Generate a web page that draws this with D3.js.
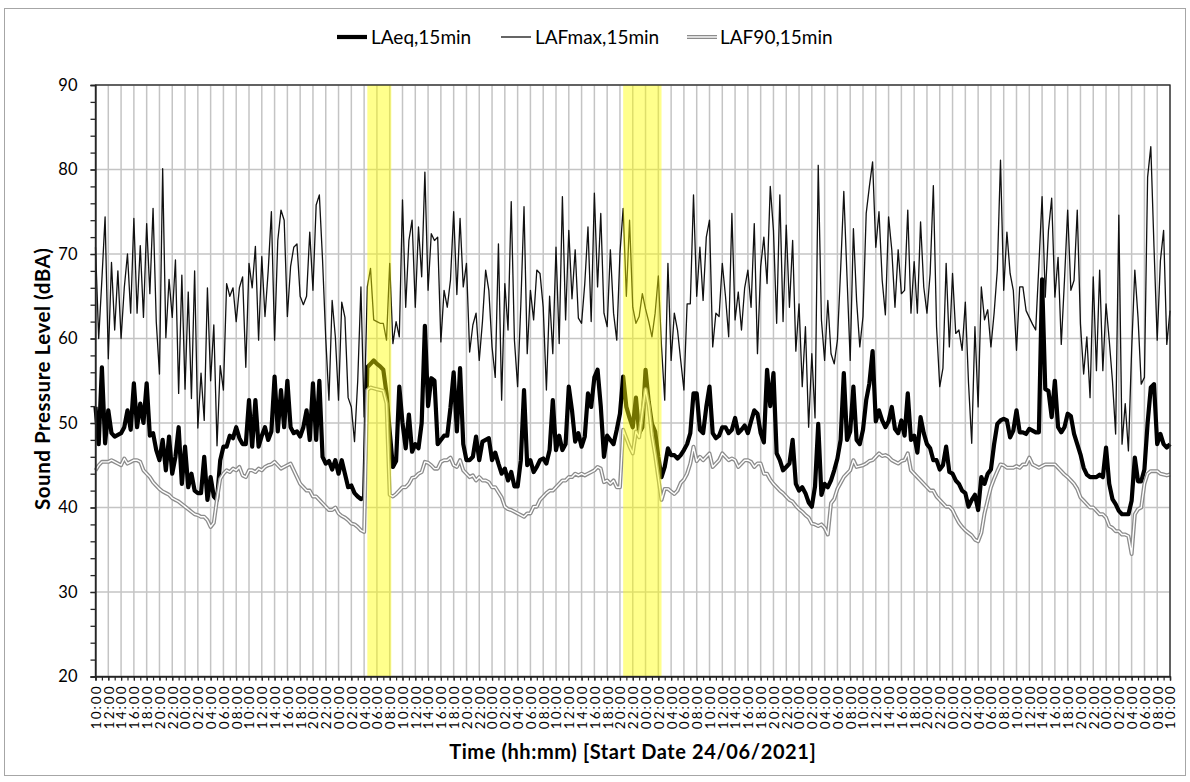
<!DOCTYPE html>
<html>
<head>
<meta charset="utf-8">
<script src="https://cdnjs.cloudflare.com/ajax/libs/d3/7.8.5/d3.min.js"></script>
<style>
    body { margin: 0; background: #fff; }
    svg { display: block; font-family: Lato, "Liberation Sans", sans-serif; }
</style>
</head>
<body>
<svg id="chart" width="1190" height="782"></svg>
<script>
// Survey period and sampling of the values
const startTime = "2021-06-24T10:00";
const endTime = "2021-07-01T10:00";
const stepMinutes = 30;

const laeq = [
    51.9, 47.5, 56.6, 47.6, 51.5, 48.8, 48.4, 48.6, 48.8, 49.5, 51.5, 49.2, 54.7, 49.5, 52.3, 50, 54.7, 48.5, 48.8, 46.8,
    45.6, 48, 44.4, 48.4, 44, 46, 49.5, 42.8, 47.2, 42.4, 44, 42, 41.7, 41.7, 46, 40.9, 43.6, 41.3, 40.9, 45.6,
    47.2, 47.2, 48.5, 48.2, 49.5, 48.2, 47.5, 47.5, 52.7, 47.2, 52.7, 47.2, 48.5, 49.5, 48, 49, 55.5, 49, 53.9, 49.5,
    55, 49.5, 48.8, 49, 48.4, 49.5, 51.5, 48, 54.7, 48, 55, 46, 45.2, 45.5, 44.5, 45.6, 44, 45.6, 44, 42.4,
    42.6, 41.7, 41.3, 41, 41.2, 56.6, 57, 57.4, 57, 56.7, 56.3, 53.5, 49, 44.8, 45.5, 54.3, 50, 47, 51, 46.6,
    47.5, 47, 50, 61.5, 52, 55.3, 55, 47.5, 48, 48.5, 48.5, 51.8, 56, 49, 56.5, 47.5, 45.6, 45.6, 46, 48.4,
    45.6, 47.8, 48, 48.2, 45.6, 46.5, 45.2, 44, 44.6, 43.2, 44.2, 42.5, 42.5, 45.6, 53.9, 45, 45.6, 44.2, 44.8, 45.6,
    45.8, 45.2, 46.8, 52.7, 46.8, 48.5, 46.8, 47.5, 54.3, 51.5, 47.8, 48.8, 47.2, 48.4, 53.5, 51.9, 55.4, 56.3, 52, 46,
    48.5, 48, 47.5, 49.2, 51.1, 55.5, 51.9, 50.6, 49.5, 53, 48.8, 49.5, 56.3, 52.5, 49.9, 49, 46, 43.6, 44.8, 47,
    46.2, 46.2, 45.8, 46.2, 46.8, 47.5, 48.8, 53.5, 53.5, 49.2, 48.8, 51.9, 54.3, 48.8, 48.2, 48.5, 49.5, 49.5, 48.8, 49.2,
    50.6, 48.8, 49.2, 49.7, 48.8, 50.2, 51.5, 51.1, 48.8, 47.7, 56.3, 52, 55.9, 46.4, 45.6, 44.4, 44.8, 45.2, 48, 42.8,
    42, 42.4, 41.7, 40.6, 40.1, 42.5, 49.9, 41.5, 42.8, 42.4, 43.2, 44.4, 45.8, 48, 55.9, 48, 49, 54.3, 48, 47.5,
    49.2, 52.7, 54.7, 58.5, 50.2, 51.5, 50.3, 49.5, 50.2, 51.9, 49.3, 48.8, 50.3, 48.5, 53.5, 48, 48.5, 46.5, 50.7, 48.8,
    47.5, 47, 45.6, 45.6, 44.5, 45, 47.2, 44.2, 44, 43.2, 42.8, 42, 41.7, 40.1, 40.9, 41.5, 39.7, 43.6, 42.8, 44,
    44.5, 47.5, 49.9, 50.3, 50.5, 50.3, 48.3, 49.1, 51.5, 48.9, 48.9, 48.7, 49.3, 49.1, 48.9, 48.9, 67, 54, 53.8, 50.7,
    55, 49.5, 48.9, 49.5, 51.1, 50.8, 48.7, 47.5, 46.3, 44.7, 43.9, 43.6, 43.6, 43.6, 43.9, 43.6, 47.1, 42.8, 41, 40.4,
    39.6, 39.2, 39.2, 39.2, 40.8, 45.9, 43.1, 43.1, 44.5, 50, 54.2, 54.6, 47.5, 48.7, 47.5, 47.1, 47.5
];

const lafmax = [
    70.8, 60, 67, 74.4, 57.6, 69, 61, 68, 60, 66, 70, 63, 74.2, 63, 71, 62.5, 73.6, 65.3, 75.4, 62,
    55.8, 80.1, 60.1, 67, 62.5, 69.3, 53.5, 67.5, 54, 65.5, 52.9, 68, 49.4, 55.9, 50.3, 66, 55, 61.6, 47.3, 56.8,
    53.9, 66.5, 65, 66, 62, 66, 67.3, 56.6, 68.9, 66, 70.9, 59.8, 69.7, 62.6, 68, 75, 59.8, 71.6, 75.2, 74,
    62.6, 68.5, 70.8, 71.2, 65, 64, 65, 72.6, 65.7, 75.8, 77, 69.3, 60, 52.7, 64.5, 60.2, 52.7, 64.3, 62.5, 53,
    51.9, 47.8, 55, 66.1, 50.7, 66.1, 68.3, 62.2, 62, 61.8, 61.8, 59.8, 68.9, 59.4, 62, 60.2, 76.4, 63.7, 71.6, 74,
    63.7, 73.2, 67.3, 79.7, 65.7, 72.4, 71.6, 72, 59.6, 65.7, 63.7, 66.9, 75, 65.2, 74.2, 66.1, 68.9, 58.4, 61.6, 63,
    57.4, 62, 68.1, 65.7, 59, 55.4, 71.2, 52.7, 66.5, 61, 76.2, 59.8, 54.3, 64, 75.6, 58.2, 65.7, 62.2, 68.1, 67.7,
    63.7, 53.9, 65, 58.2, 70.8, 59.4, 76.8, 62.2, 72.8, 64.7, 70.5, 62.4, 61.8, 66.5, 73.2, 62, 77.2, 66.1, 74.8, 63,
    61.4, 70.5, 63, 59.8, 70.1, 75.4, 65, 74, 63.7, 61.8, 62.6, 65.3, 63.5, 62, 60.2, 63, 67.4, 59, 52.7, 68.9,
    57.4, 63, 61, 57.4, 53.9, 64.1, 64.1, 77, 65, 70.8, 64.5, 72, 74, 59, 63, 62.6, 68.9, 65, 60.2, 74.8,
    62.2, 65.5, 61, 66, 68.1, 63.7, 73.6, 58.2, 68.5, 72, 66.5, 78, 72.8, 61.8, 77, 62, 73.4, 63.7, 71.6, 58.5,
    64.1, 54.3, 61.4, 49.5, 58.2, 50.6, 80.5, 62.2, 57.4, 64.5, 58.2, 57, 59.8, 68.1, 77.4, 67.3, 57.4, 73, 64.5, 59,
    62.6, 74.8, 78, 80.9, 70.8, 75, 66.9, 62.8, 74.4, 70.5, 63.7, 70.5, 65.3, 65.7, 75.2, 63, 69.1, 63, 73.8, 66.1,
    63, 67.7, 78.1, 61.4, 54.3, 56.5, 68.9, 59, 67.7, 60.6, 61, 58.6, 64.3, 54.7, 47.6, 61.4, 51.9, 66.1, 62.2, 63.4,
    59, 63, 68.1, 81.1, 65.7, 72.6, 67.7, 65.7, 58.6, 66.1, 66.1, 63.3, 62.5, 61.7, 61, 68.7, 76.8, 64.9, 72.8, 76.6,
    64.9, 69.6, 59.3, 66.9, 75.2, 65.7, 66.9, 75.2, 61.7, 55.8, 60.2, 53, 67.3, 56.2, 68.1, 56.2, 64.1, 59.8, 55, 48.7,
    74.6, 47.5, 52.3, 46.7, 58.6, 68.1, 62.5, 54.6, 55.4, 79.1, 82.7, 70.8, 59.8, 69.2, 72.8, 59.3, 63.3
];

const laf90 = [
    44.4, 45, 45.4, 45.4, 45.4, 45.6, 45.4, 45.2, 45, 45.8, 45.2, 45.4, 45.6, 45.6, 45.4, 44.4, 44, 43.6, 43, 42.6,
    42.2, 41.9, 41.7, 41.5, 41.1, 40.9, 40.7, 40.4, 40.1, 39.8, 39.5, 39.2, 39.1, 38.9, 38.9, 38.5, 37.7, 38.2, 41, 43.4,
    44, 44.4, 44.2, 44.6, 44.4, 44.8, 43.8, 43.6, 44.4, 44.4, 44.2, 44.6, 44.4, 44.8, 45, 45.1, 45.4, 45, 44.6, 44.8,
    45, 45.2, 44.4, 43.6, 42.8, 42.4, 42, 42, 41.3, 41.3, 40.9, 40.5, 40.1, 39.7, 39.7, 40, 39.3, 39, 38.8, 38.5,
    38.1, 38, 37.7, 37.3, 37.1, 53.9, 54.2, 54.1, 54, 53.9, 53.8, 52.3, 41.5, 41.3, 41.6, 42, 42.4, 42.4, 42.8, 43.5,
    43.6, 44, 44.2, 45.4, 45.3, 45, 44.6, 44.6, 45.4, 45.6, 45.6, 45.9, 45, 44.8, 45.6, 44.4, 44, 43.6, 43.8, 43.2,
    43.6, 43.2, 43.2, 43, 42.4, 42.4, 41.8, 41.2, 40.1, 39.8, 39.7, 39.5, 39.3, 39.1, 38.9, 39.3, 39.3, 40.1, 40.1, 40.9,
    41.3, 41.7, 42, 42, 42.4, 42.8, 43.2, 43.2, 43.6, 43.6, 44, 43.8, 44, 43.8, 44, 44.2, 44.4, 44.8, 44.6, 43,
    43.2, 42.8, 43.2, 42.4, 42.4, 49.2, 48.2, 47.2, 46.4, 49, 48.3, 51.3, 54, 52, 48.5, 46.2, 43.5, 40.9, 42.2, 42.2,
    41.9, 41.6, 42, 42.9, 43.3, 44, 45.2, 47.2, 45.5, 46, 45.6, 46, 46.4, 44.8, 45.2, 45.6, 46.4, 46, 45.6, 45.8,
    45.6, 44.8, 45.2, 45.6, 45.6, 45.4, 44.8, 45.2, 45.2, 44, 44, 43.3, 42.8, 42.4, 42, 41.7, 41.3, 40.9, 40.7, 40.2,
    39.8, 39.5, 39.1, 38.8, 38.1, 38, 37.8, 38, 37.6, 36.8, 40.5, 41, 42.2, 42.9, 43.6, 44, 44.4, 45.6, 44.8, 44.9,
    45, 45.2, 45.5, 45.6, 46, 46.4, 46.1, 46.2, 46, 45.6, 45.4, 45.2, 45.5, 45.6, 46.4, 44.4, 44, 43.6, 43.2, 42.8,
    42.4, 42, 42, 41.3, 40.9, 40.5, 40.1, 40.1, 39.7, 38.9, 38.2, 37.7, 37.3, 37, 36.7, 36.2, 36, 37, 39.3, 40.9,
    42.4, 43.4, 44.3, 45.1, 45, 44.7, 44.7, 44.7, 44.9, 44.7, 45.1, 45.1, 45.9, 45.1, 44.9, 44.7, 44.9, 45.1, 45.1, 45.1,
    45.1, 44.7, 44.3, 43.9, 43.6, 43.2, 42.8, 42.2, 41.2, 40.8, 40.4, 40, 40, 39.6, 39.2, 39.2, 38.8, 37.8, 37.6, 37.2,
    37.2, 36.8, 36.8, 36.6, 34.5, 39.2, 39.8, 40, 42.8, 44, 44.3, 44.3, 44.3, 44, 43.9, 43.8, 43.9
];

const yTicks = [20, 30, 40, 50, 60, 70, 80, 90];
const seriesNames = ["LAeq,15min", "LAFmax,15min", "LAF90,15min"];

// Highlighted periods (yellow bands)
const bandStarts = ["2021-06-26T04:30", "2021-06-27T20:30"];
const bandEnds = ["2021-06-26T08:15", "2021-06-28T02:30"];

const parseTime = d3.timeParse("%Y-%m-%dT%H:%M");
const t0 = parseTime(startTime);
const t1 = parseTime(endTime);

const svg = d3.select("#chart");

// Outer chart border
svg.append("rect")
    .attr("x", 4.5)
    .attr("y", 8.5)
    .attr("width", 1181)
    .attr("height", 767)
    .attr("fill", "#fff")
    .attr("stroke", "#a6a6a6")
    .attr("stroke-width", 1);

const plot = { left: 95.5, right: 1170, top: 85, bottom: 676.5 };

const x = d3.scaleTime()
    .domain([t0, t1])
    .range([plot.left, plot.right]);

const y = d3.scaleLinear()
    .domain([20, 90])
    .range([plot.bottom, plot.top]);

const timeAt = i => d3.timeMinute.offset(t0, i * stepMinutes);

// Gridlines
const grid = svg.append("g").attr("class", "grid");

grid.selectAll("line.v")
    .data(d3.timeHour.every(2).range(t0, d3.timeMinute.offset(t1, 1)))
    .join("line")
    .attr("class", "v")
    .attr("x1", d => x(d))
    .attr("x2", d => x(d))
    .attr("y1", plot.top)
    .attr("y2", plot.bottom)
    .attr("stroke", "#c4c4c4")
    .attr("stroke-width", 1.5);

grid.selectAll("line.h")
    .data(yTicks)
    .join("line")
    .attr("class", "h")
    .attr("x1", plot.left)
    .attr("x2", plot.right)
    .attr("y1", d => y(d))
    .attr("y2", d => y(d))
    .attr("stroke", "#c4c4c4")
    .attr("stroke-width", 1.5);

// Series lines
const line = d3.line()
    .x((d, i) => x(timeAt(i)))
    .y(d => y(d));

const lines = svg.append("g").attr("class", "series");

lines.append("path")
    .datum(laeq)
    .attr("fill", "none")
    .attr("stroke", "#000")
    .attr("stroke-width", 4.2)
    .attr("stroke-linejoin", "round")
    .attr("d", line);

lines.append("path")
    .datum(lafmax)
    .attr("fill", "none")
    .attr("stroke", "#111")
    .attr("stroke-width", 1.3)
    .attr("stroke-linejoin", "round")
    .attr("d", line);

// LAF90 is drawn as a grey double line
lines.append("path")
    .datum(laf90)
    .attr("fill", "none")
    .attr("stroke", "#8c8c8c")
    .attr("stroke-width", 4)
    .attr("stroke-linejoin", "round")
    .attr("d", line);

lines.append("path")
    .datum(laf90)
    .attr("fill", "none")
    .attr("stroke", "#fff")
    .attr("stroke-width", 1.4)
    .attr("stroke-linejoin", "round")
    .attr("d", line);

// Yellow highlight bands sit over the lines
svg.append("g")
    .selectAll("rect")
    .data(bandStarts.map((s, i) => [parseTime(s), parseTime(bandEnds[i])]))
    .join("rect")
    .attr("x", d => x(d[0]))
    .attr("width", d => x(d[1]) - x(d[0]))
    .attr("y", plot.top)
    .attr("height", plot.bottom - plot.top)
    .attr("fill", "#ffff00")
    .attr("opacity", 0.45);

// Plot frame
svg.append("rect")
    .attr("x", plot.left)
    .attr("y", plot.top)
    .attr("width", plot.right - plot.left)
    .attr("height", plot.bottom - plot.top)
    .attr("fill", "none")
    .attr("stroke", "#262626")
    .attr("stroke-width", 1.3);

// Y axis with minor ticks
svg.append("g")
    .attr("transform", `translate(${plot.left},0)`)
    .call(d3.axisLeft(y).tickValues(d3.range(20, 91, 2)).tickSize(5).tickFormat(""))
    .call(g => g.select(".domain").remove())
    .call(g => g.selectAll("line").attr("stroke", "#262626").attr("stroke-width", 1.3));

svg.append("g")
    .attr("transform", `translate(${plot.left},0)`)
    .call(d3.axisLeft(y).tickValues(yTicks).tickSize(5).tickPadding(13).tickFormat(d3.format("d")))
    .call(g => g.select(".domain").attr("stroke", "#262626").attr("stroke-width", 1.3))
    .call(g => g.selectAll("line").attr("stroke", "#262626").attr("stroke-width", 1.3))
    .call(g => g.selectAll("text")
        .attr("font-family", "Lato, sans-serif")
        .attr("font-size", 16.5)
        .attr("fill", "#000"));

// X axis: hourly minor ticks, labels every two hours
svg.append("g")
    .attr("transform", `translate(0,${plot.bottom})`)
    .call(d3.axisBottom(x).ticks(d3.timeHour.every(1)).tickSize(4).tickFormat(""))
    .call(g => g.select(".domain").remove())
    .call(g => g.selectAll("line").attr("stroke", "#262626").attr("stroke-width", 1.2));

svg.append("g")
    .attr("transform", `translate(0,${plot.bottom})`)
    .call(d3.axisBottom(x).ticks(d3.timeHour.every(2)).tickSize(4).tickFormat(d3.timeFormat("%H:%M")))
    .call(g => g.select(".domain").attr("stroke", "#262626").attr("stroke-width", 1.3))
    .call(g => g.selectAll("line").attr("stroke", "#262626").attr("stroke-width", 1.2))
    .call(g => g.selectAll("text")
        .attr("transform", "rotate(-90)")
        .attr("x", -8)
        .attr("y", 0)
        .attr("dy", "0.36em")
        .attr("text-anchor", "end")
        .attr("font-family", "Lato, sans-serif")
        .attr("font-size", 13.5)
        .attr("letter-spacing", 2)
        .attr("fill", "#000"));

// Axis titles
svg.append("text")
    .attr("x", (plot.left + plot.right) / 2)
    .attr("y", 759)
    .attr("text-anchor", "middle")
    .attr("font-size", 20)
    .attr("font-weight", "bold")
    .attr("letter-spacing", 0.6)
    .text("Time (hh:mm) [Start Date 24/06/2021]");

svg.append("text")
    .attr("transform", "translate(50, 379) rotate(-90)")
    .attr("text-anchor", "middle")
    .attr("font-size", 20.5)
    .attr("font-weight", "bold")
    .attr("textLength", 262)
    .attr("lengthAdjust", "spacing")
    .text("Sound Pressure Level (dBA)");

// Legend
const legendX = [337, 501, 687];
const legend = svg.append("g").attr("transform", "translate(0,37)");

seriesNames.forEach((name, i) => {
    const item = legend.append("g").attr("transform", `translate(${legendX[i]},0)`);
    if (i === 0) {
        item.append("line").attr("x2", 30).attr("stroke", "#000").attr("stroke-width", 4.2);
    } else if (i === 1) {
        item.append("line").attr("x2", 30).attr("stroke", "#111").attr("stroke-width", 1.3);
    } else {
        item.append("line").attr("x2", 30).attr("stroke", "#8c8c8c").attr("stroke-width", 4);
        item.append("line").attr("x2", 30).attr("stroke", "#fff").attr("stroke-width", 1.4);
    }
    item.append("text")
        .attr("x", i === 2 ? 33 : 34)
        .attr("dy", "0.35em")
        .attr("font-size", 19)
        .attr("fill", "#000")
        .text(name);
});
</script>
</body>
</html>
